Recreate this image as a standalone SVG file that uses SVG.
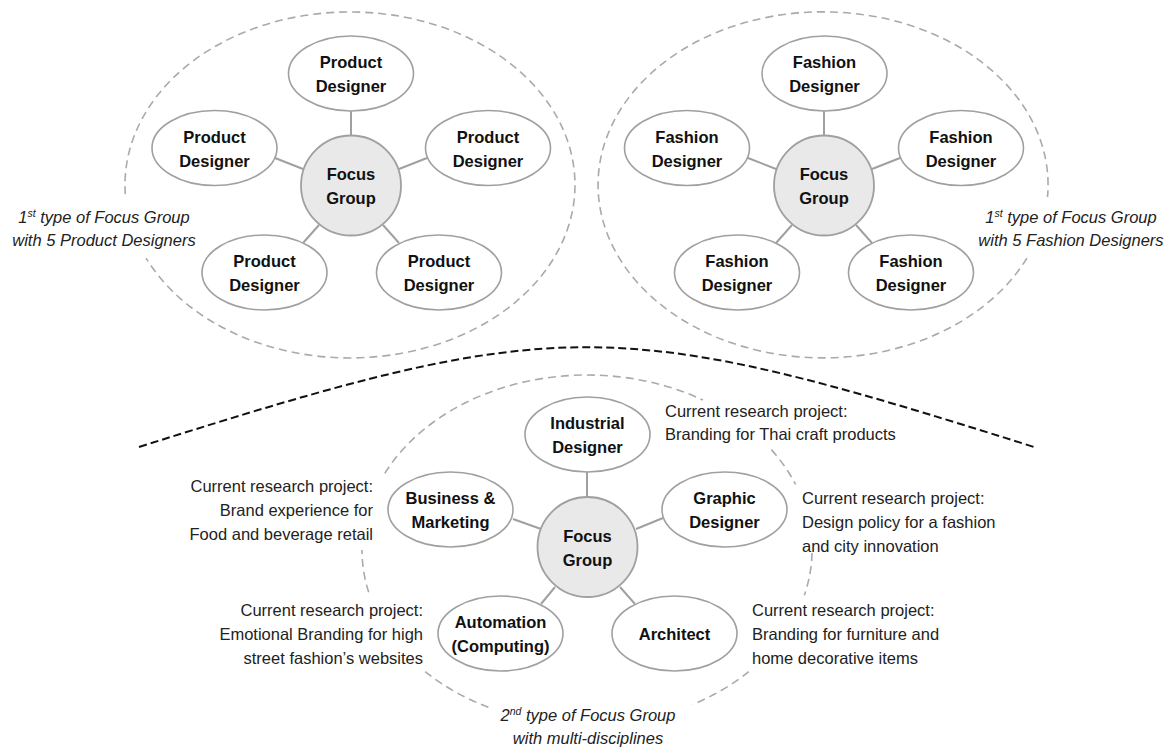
<svg xmlns="http://www.w3.org/2000/svg" width="1176" height="749" viewBox="0 0 1176 749">
<style>
.node{fill:#fff;stroke:#a0a0a0;stroke-width:1.6}
.focus{fill:#e9e9e9;stroke:#a0a0a0;stroke-width:1.8}
.lbl{font-family:"Liberation Sans",Arial,sans-serif;font-size:16.5px;font-weight:bold;fill:#111;text-anchor:middle}
.txt{font-family:"Liberation Sans",Arial,sans-serif;font-size:16.5px;fill:#222}
.it{font-family:"Liberation Sans",Arial,sans-serif;font-size:16.5px;font-style:italic;fill:#222;text-anchor:middle}
.sup{font-size:10.5px}
.grp{fill:none;stroke:#aaa;stroke-width:1.6;stroke-dasharray:8 5}
.div{fill:none;stroke:#111;stroke-width:2;stroke-dasharray:8 4}
.conn line{stroke:#a0a0a0;stroke-width:2}
</style>
<rect width="1176" height="749" fill="#fff"/>

<g id="group-outlines">
<path class="grp" d="M125.3,194.1 A225,173 0 1 1 146.1,258.1"/>
<path class="grp" d="M1026.9,258.1 A225,173 0 1 1 1047.5,197.1"/>
<path class="grp" d="M384.8,473.3 A225,175 0 0 1 702.9,400"/>
<path class="grp" d="M771.3,449.6 A225,175 0 0 1 795.6,484.4"/>
<path class="grp" d="M812,553.1 A225,175 0 0 1 804.3,595.3"/>
<path class="grp" d="M748.8,671.6 A225,175 0 0 1 692.6,704.5"/>
<path class="grp" d="M488.4,707.3 A225,175 0 0 1 425.2,671.6"/>
<path class="grp" d="M368.7,592.3 A225,175 0 0 1 362,550"/>
</g>

<path id="divider" class="div" d="M139,447 C559,314 614,314 1034,447"/>

<g id="connectors" class="conn">
<line x1="351" y1="111" x2="351" y2="135"/>
<line x1="275" y1="158" x2="303" y2="169"/>
<line x1="399" y1="169" x2="427" y2="158"/>
<line x1="319" y1="225" x2="303" y2="243"/>
<line x1="383" y1="225" x2="399" y2="243"/>
<line x1="824" y1="111" x2="824" y2="135"/>
<line x1="748" y1="158" x2="776" y2="169"/>
<line x1="872" y1="169" x2="900" y2="158"/>
<line x1="792" y1="225" x2="776" y2="243"/>
<line x1="856" y1="225" x2="872" y2="243"/>
<line x1="587" y1="472" x2="587" y2="497"/>
<line x1="513" y1="519" x2="541" y2="529"/>
<line x1="636" y1="529" x2="663" y2="518"/>
<line x1="555" y1="587" x2="541" y2="604"/>
<line x1="620" y1="587" x2="635" y2="604"/>
</g>

<!-- Left cluster -->
<g id="pd-top"><ellipse class="node" cx="351" cy="73.5" rx="62.5" ry="37.5"/><text class="lbl" x="351" y="68">Product</text><text class="lbl" x="351" y="92">Designer</text></g>
<g id="pd-left"><ellipse class="node" cx="214.5" cy="148" rx="62.5" ry="37.5"/><text class="lbl" x="214.5" y="142.5">Product</text><text class="lbl" x="214.5" y="166.5">Designer</text></g>
<g id="pd-right"><ellipse class="node" cx="488" cy="148" rx="62.5" ry="37.5"/><text class="lbl" x="488" y="142.5">Product</text><text class="lbl" x="488" y="166.5">Designer</text></g>
<g id="focus-1"><circle class="focus" cx="351" cy="185.5" r="50"/><text class="lbl" x="351" y="180">Focus</text><text class="lbl" x="351" y="204">Group</text></g>
<g id="pd-bl"><ellipse class="node" cx="264.5" cy="272.5" rx="62.5" ry="37.5"/><text class="lbl" x="264.5" y="267">Product</text><text class="lbl" x="264.5" y="291">Designer</text></g>
<g id="pd-br"><ellipse class="node" cx="439" cy="272.5" rx="62.5" ry="37.5"/><text class="lbl" x="439" y="267">Product</text><text class="lbl" x="439" y="291">Designer</text></g>

<!-- Right cluster -->
<g id="fd-top"><ellipse class="node" cx="824.5" cy="73.5" rx="62.5" ry="37.5"/><text class="lbl" x="824.5" y="68">Fashion</text><text class="lbl" x="824.5" y="92">Designer</text></g>
<g id="fd-left"><ellipse class="node" cx="687" cy="148" rx="62.5" ry="37.5"/><text class="lbl" x="687" y="142.5">Fashion</text><text class="lbl" x="687" y="166.5">Designer</text></g>
<g id="fd-right"><ellipse class="node" cx="961" cy="148" rx="62.5" ry="37.5"/><text class="lbl" x="961" y="142.5">Fashion</text><text class="lbl" x="961" y="166.5">Designer</text></g>
<g id="focus-2"><circle class="focus" cx="824" cy="185.5" r="50"/><text class="lbl" x="824" y="180">Focus</text><text class="lbl" x="824" y="204">Group</text></g>
<g id="fd-bl"><ellipse class="node" cx="737" cy="272.5" rx="62.5" ry="37.5"/><text class="lbl" x="737" y="267">Fashion</text><text class="lbl" x="737" y="291">Designer</text></g>
<g id="fd-br"><ellipse class="node" cx="911" cy="272.5" rx="62.5" ry="37.5"/><text class="lbl" x="911" y="267">Fashion</text><text class="lbl" x="911" y="291">Designer</text></g>

<!-- Bottom cluster -->
<g id="industrial"><ellipse class="node" cx="587.5" cy="434.5" rx="62.5" ry="37.5"/><text class="lbl" x="587.5" y="429">Industrial</text><text class="lbl" x="587.5" y="453">Designer</text></g>
<g id="business"><ellipse class="node" cx="450.5" cy="509.5" rx="62.5" ry="37.5"/><text class="lbl" x="450.5" y="504">Business &amp;</text><text class="lbl" x="450.5" y="528">Marketing</text></g>
<g id="graphic"><ellipse class="node" cx="724.5" cy="509.5" rx="62.5" ry="37.5"/><text class="lbl" x="724.5" y="504">Graphic</text><text class="lbl" x="724.5" y="528">Designer</text></g>
<g id="focus-3"><circle class="focus" cx="587.5" cy="547" r="50"/><text class="lbl" x="587.5" y="541.5">Focus</text><text class="lbl" x="587.5" y="565.5">Group</text></g>
<g id="automation"><ellipse class="node" cx="500.5" cy="633.5" rx="62.5" ry="37.5"/><text class="lbl" x="500.5" y="628">Automation</text><text class="lbl" x="500.5" y="652">(Computing)</text></g>
<g id="architect"><ellipse class="node" cx="674.5" cy="633.5" rx="62.5" ry="37.5"/><text class="lbl" x="674.5" y="640">Architect</text></g>

<!-- Group labels -->
<g id="label-1"><text class="it" x="104" y="222.5">1<tspan class="sup" dy="-6">st</tspan><tspan dy="6"> type of Focus Group</tspan></text><text class="it" x="104" y="245.5">with 5 Product Designers</text></g>
<g id="label-2"><text class="it" x="1071" y="222.5">1<tspan class="sup" dy="-6">st</tspan><tspan dy="6"> type of Focus Group</tspan></text><text class="it" x="1071" y="245.5">with 5 Fashion Designers</text></g>
<g id="label-3"><text class="it" x="588" y="721">2<tspan class="sup" dy="-6">nd</tspan><tspan dy="6"> type of Focus Group</tspan></text><text class="it" x="588" y="744">with multi-disciplines</text></g>

<!-- Research notes -->
<g id="note-business" class="txt" text-anchor="end"><text x="373" y="492">Current research project:</text><text x="373" y="516">Brand experience for</text><text x="373" y="540">Food and beverage retail</text></g>
<g id="note-automation" class="txt" text-anchor="end"><text x="423" y="616">Current research project:</text><text x="423" y="640">Emotional Branding for high</text><text x="423" y="664">street fashion’s websites</text></g>
<g id="note-industrial" class="txt"><text x="665" y="417">Current research project:</text><text x="665" y="440">Branding for Thai craft products</text></g>
<g id="note-graphic" class="txt"><text x="802" y="504">Current research project:</text><text x="802" y="528">Design policy for a fashion</text><text x="802" y="552">and city innovation</text></g>
<g id="note-architect" class="txt"><text x="752" y="616">Current research project:</text><text x="752" y="640">Branding for furniture and</text><text x="752" y="664">home decorative items</text></g>
</svg>
